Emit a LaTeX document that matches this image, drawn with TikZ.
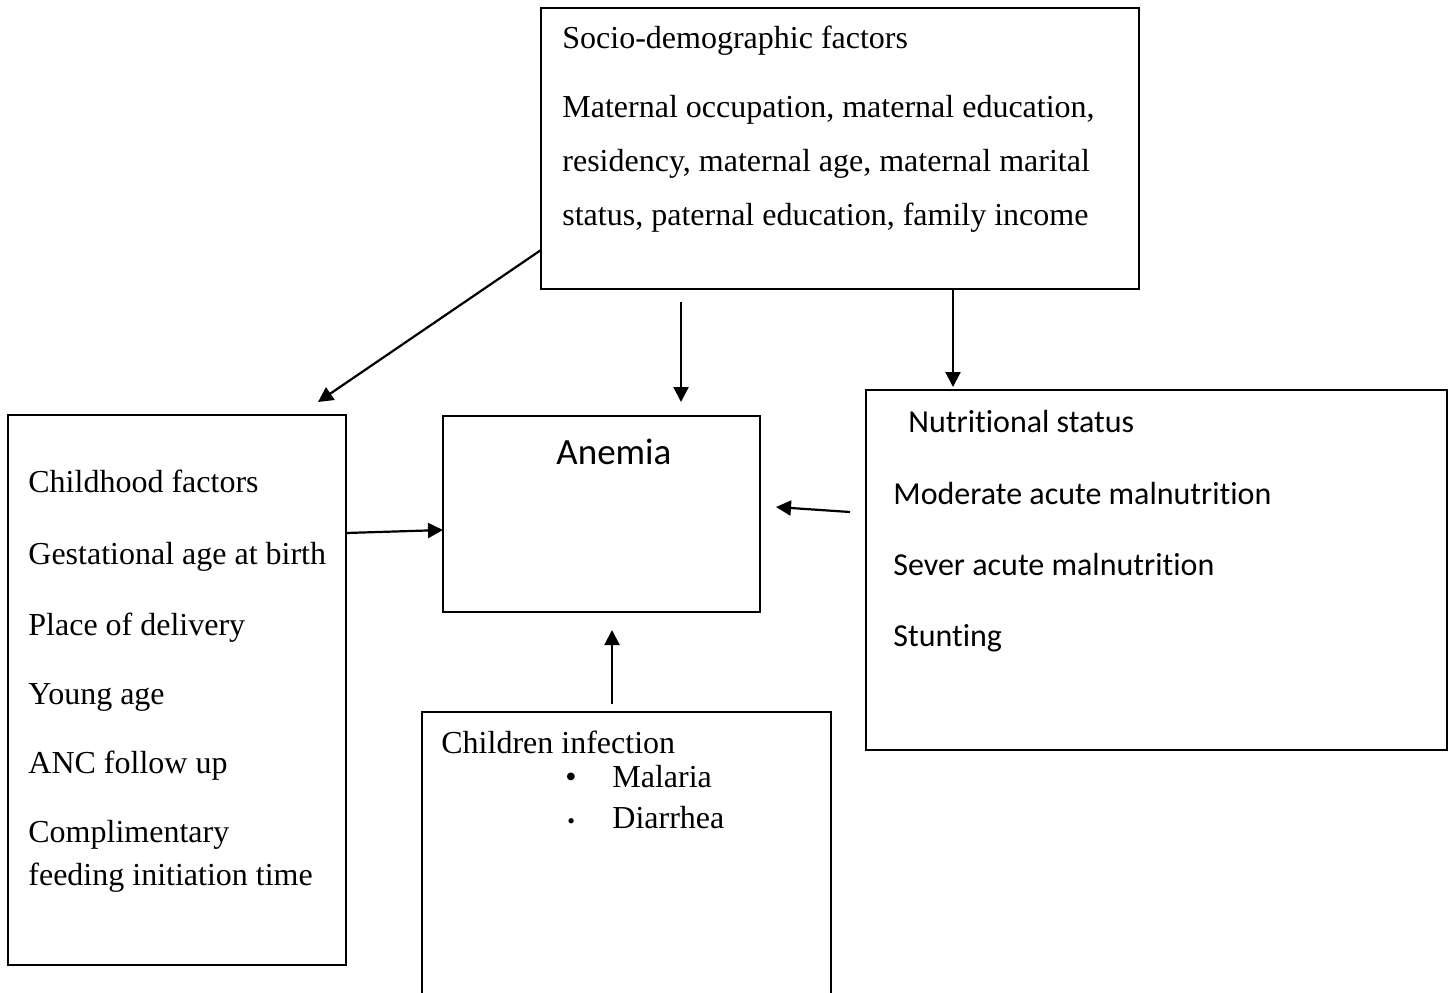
\documentclass[tikz,border=0pt]{standalone}
\usepackage{fontspec}
\setmainfont{Liberation Serif}
\newfontfamily\calfont[Ligatures={NoCommon}]{Carlito}
\usetikzlibrary{arrows.meta}

\tikzset{
    box/.style={draw, line width=1pt, rectangle, inner sep=0pt, outer sep=0pt},
    txt/.style={anchor=base west, inner sep=0pt, font=\fontsize{16}{19}\selectfont},
    ctxt/.style={txt, font=\calfont\fontsize{16}{19}\selectfont},
    arr/.style={-{Triangle[length=7.5pt,width=7.5pt]}, line width=1.1pt}
}

\begin{document}
\begin{tikzpicture}[x=0.5pt, y=-0.5pt]
        \useasboundingbox (0,0) rectangle (1453,992);
        % boxes
        \node[box, minimum width=299pt, minimum height=140.5pt] (socio) at (840,148.5) {};
        \node[box, minimum width=169pt, minimum height=275pt] (child) at (177,690) {};
        \node[box, minimum width=158.5pt, minimum height=98pt] (anemia) at (601.5,514) {};
        \node[box, minimum width=290.5pt, minimum height=180pt] (nutri) at (1156.5,570) {};
        \node[box, minimum width=204.5pt, minimum height=144pt] (infect) at (626.5,856) {};

        % socio-demographic
        \node[txt] (s0) at (562,48) {Socio-demographic factors};
        \node[txt] (s1) at (562,117) {Maternal occupation, maternal education,};
        \node[txt] (s2) at (562,171) {residency, maternal age, maternal marital};
        \node[txt] (s3) at (562,225) {status, paternal education, family income};

        % childhood
        \node[txt] (c0) at (28,492) {Childhood factors};
        \node[txt] (c1) at (28,564) {Gestational age at birth};
        \node[txt] (c2) at (28,635) {Place of delivery};
        \node[txt] (c3) at (28,704) {Young age};
        \node[txt] (c4) at (28,773) {ANC follow up};
        \node[txt] (c5) at (28,842) {Complimentary};
        \node[txt] (c6) at (28,885) {feeding initiation time};

        % anemia
        \node[ctxt, font=\calfont\fontsize{18.5}{22}\selectfont] (a0) at (556,464) {Anemia};

        % nutritional status
        \node[ctxt] (n0) at (908,432) {Nutritional status};
        \node[ctxt] (n1) at (893,504) {Moderate acute malnutrition};
        \node[ctxt] (n2) at (893,575) {Sever acute malnutrition};
        \node[ctxt] (n3) at (893,646) {Stunting};

        % infection
        \node[txt] (i0) at (441,753) {Children infection};
        \node[txt] (b1) at (565,787) {\textbullet};
        \node[txt] (i1) at (612,787) {Malaria};
        \node[txt, font=\fontsize{11}{13}\selectfont] (b2) at (567,828) {\textbullet};
        \node[txt] (i2) at (612,828) {Diarrhea};

        % arrows
        \draw[arr] ([yshift=19.5pt]socio.south west) -- ([xshift=-14pt,yshift=6.5pt]child.north east);
        \draw[arr] ([xshift=-79.5pt,yshift=-6.5pt]socio.south) -- ([xshift=39.75pt,yshift=7pt]anemia.north);
        \draw[arr] ([xshift=56.5pt]socio.south) -- ([xshift=-101.75pt,yshift=1.5pt]nutri.north);
        \draw[arr] ([yshift=78.5pt]child.east) -- ([yshift=-8pt]anemia.west);
        \draw[arr] ([xshift=-8pt,yshift=29pt]nutri.west) -- ([xshift=8pt,yshift=3.5pt]anemia.east);
        \draw[arr] ([xshift=-7.25pt,yshift=4pt]infect.north) -- ([xshift=5.25pt,yshift=-9pt]anemia.south);
    \end{tikzpicture}
\end{document}
